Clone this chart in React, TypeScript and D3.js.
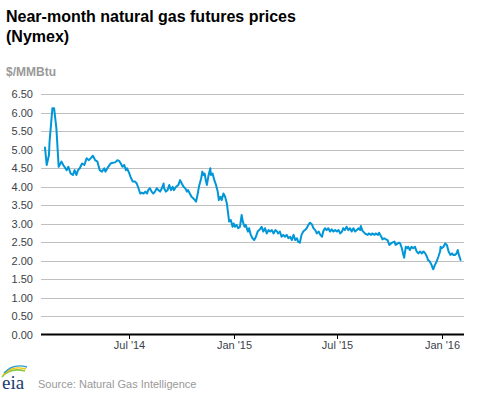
import React from "react";
import * as d3 from "d3";

const dates: string[] = [
  "2014-02-04","2014-02-07","2014-02-11","2014-02-12","2014-02-17","2014-02-20","2014-02-24","2014-02-28",
  "2014-03-03","2014-03-05","2014-03-08","2014-03-14","2014-03-17","2014-03-21","2014-03-25","2014-03-28","2014-03-31",
  "2014-04-03","2014-04-06","2014-04-10","2014-04-14","2014-04-18","2014-04-22","2014-04-25","2014-04-29",
  "2014-05-03","2014-05-07","2014-05-11","2014-05-15","2014-05-19","2014-05-21","2014-05-26","2014-05-30",
  "2014-06-03","2014-06-07","2014-06-11","2014-06-14","2014-06-17","2014-06-20","2014-06-23","2014-06-26","2014-06-28",
  "2014-07-02","2014-07-04","2014-07-08","2014-07-12","2014-07-15","2014-07-18","2014-07-21","2014-07-24","2014-07-27","2014-07-30",
  "2014-08-02","2014-08-04","2014-08-07","2014-08-10","2014-08-13","2014-08-16","2014-08-19","2014-08-22","2014-08-25","2014-08-28","2014-08-31",
  "2014-09-01","2014-09-04","2014-09-07","2014-09-10","2014-09-13","2014-09-16","2014-09-18","2014-09-22","2014-09-26","2014-09-29",
  "2014-10-02","2014-10-05","2014-10-08","2014-10-11","2014-10-13","2014-10-16","2014-10-19","2014-10-22","2014-10-25","2014-10-27","2014-10-30",
  "2014-11-01","2014-11-05","2014-11-07","2014-11-09","2014-11-11","2014-11-13","2014-11-15","2014-11-18","2014-11-21","2014-11-22","2014-11-25","2014-11-28",
  "2014-12-01","2014-12-04","2014-12-06","2014-12-09","2014-12-11","2014-12-14","2014-12-17","2014-12-20","2014-12-23","2014-12-24","2014-12-27","2014-12-30",
  "2015-01-01","2015-01-03","2015-01-06","2015-01-09","2015-01-12","2015-01-15","2015-01-17","2015-01-20","2015-01-22","2015-01-26","2015-01-28","2015-01-31",
  "2015-02-03","2015-02-06","2015-02-09","2015-02-12","2015-02-16","2015-02-19","2015-02-22","2015-02-25","2015-02-28",
  "2015-03-03","2015-03-06","2015-03-09","2015-03-12","2015-03-15","2015-03-18","2015-03-20","2015-03-23","2015-03-26","2015-03-29",
  "2015-04-01","2015-04-04","2015-04-07","2015-04-10","2015-04-13","2015-04-16","2015-04-19","2015-04-22","2015-04-24","2015-04-27","2015-04-30",
  "2015-05-03","2015-05-06","2015-05-09","2015-05-12","2015-05-15","2015-05-18","2015-05-21","2015-05-24","2015-05-27","2015-05-30",
  "2015-06-02","2015-06-05","2015-06-07","2015-06-10","2015-06-13","2015-06-16","2015-06-19","2015-06-22","2015-06-25","2015-06-28",
  "2015-07-01","2015-07-04","2015-07-07","2015-07-10","2015-07-12","2015-07-15","2015-07-18","2015-07-21","2015-07-24","2015-07-27","2015-07-30",
  "2015-08-02","2015-08-05","2015-08-08","2015-08-11","2015-08-12","2015-08-15","2015-08-18","2015-08-21","2015-08-24","2015-08-26","2015-08-30",
  "2015-09-01","2015-09-05","2015-09-07","2015-09-11","2015-09-13","2015-09-17","2015-09-19","2015-09-22","2015-09-25","2015-09-28",
  "2015-10-01","2015-10-04","2015-10-06","2015-10-10","2015-10-12","2015-10-16","2015-10-18","2015-10-20","2015-10-23","2015-10-25","2015-10-27","2015-10-29","2015-10-30",
  "2015-11-02","2015-11-03","2015-11-06","2015-11-09","2015-11-12","2015-11-15","2015-11-18","2015-11-21","2015-11-24","2015-11-27","2015-11-30",
  "2015-12-03","2015-12-06","2015-12-08","2015-12-11","2015-12-14","2015-12-17","2015-12-20","2015-12-23","2015-12-26","2015-12-29","2015-12-30",
  "2016-01-01","2016-01-04","2016-01-07","2016-01-10","2016-01-13","2016-01-16","2016-01-19","2016-01-21","2016-01-24","2016-01-27","2016-01-29","2016-01-31",
  "2016-02-03",
];

const prices: number[] = [
  5.06,4.59,4.86,5.22,6.12,6.12,5.58,4.54,
  4.63,4.68,4.59,4.45,4.54,4.36,4.32,4.45,4.32,
  4.45,4.50,4.63,4.59,4.77,4.72,4.77,4.84,
  4.72,4.68,4.45,4.41,4.50,4.41,4.54,4.63,
  4.65,4.66,4.72,4.70,4.63,4.54,4.59,4.45,4.50,
  4.36,4.27,4.14,4.14,4.09,3.96,3.82,3.84,3.82,3.87,
  3.82,3.91,3.96,3.87,3.82,3.87,3.96,3.91,3.87,3.96,4.09,
  3.96,3.87,3.91,4.05,3.91,4.00,3.91,4.00,4.05,4.18,
  4.09,4.00,3.96,3.87,3.91,3.82,3.73,3.69,3.64,3.60,3.82,
  4.00,4.23,4.41,4.32,4.36,4.18,4.05,4.32,4.50,4.32,4.36,4.18,
  4.05,3.87,3.64,3.73,3.64,3.82,3.73,3.55,3.19,3.06,3.10,2.92,
  3.01,2.92,2.97,2.88,2.92,3.24,3.06,2.92,2.97,2.79,2.88,2.70,
  2.61,2.56,2.65,2.79,2.85,2.92,2.79,2.88,2.74,
  2.83,2.79,2.83,2.74,2.83,2.79,2.74,2.79,2.65,2.70,
  2.65,2.70,2.61,2.65,2.56,2.70,2.56,2.61,2.52,2.49,2.70,
  2.79,2.83,2.88,2.97,3.03,2.99,2.88,2.83,2.74,2.79,
  2.70,2.65,2.79,2.88,2.83,2.88,2.79,2.85,2.79,2.83,
  2.79,2.83,2.74,2.79,2.88,2.83,2.92,2.83,2.88,2.79,2.88,
  2.79,2.83,2.88,2.83,2.94,2.81,2.76,2.72,2.70,2.74,2.70,
  2.74,2.70,2.74,2.70,2.76,2.65,2.58,2.61,2.58,2.56,
  2.43,2.47,2.49,2.52,2.43,2.47,2.49,2.47,2.34,2.20,2.08,2.29,2.38,
  2.34,2.38,2.29,2.38,2.34,2.38,2.25,2.20,2.25,2.20,2.25,
  2.20,2.11,2.02,1.98,1.89,1.77,1.89,1.98,2.11,2.25,2.38,
  2.34,2.38,2.47,2.43,2.25,2.16,2.20,2.16,2.16,2.20,2.29,2.16,
  2.02,
];

const yTicks: number[] = [0, 0.5, 1, 1.5, 2, 2.5, 3, 3.5, 4, 4.5, 5, 5.5, 6, 6.5];
const xTickDates: string[] = ["2014-07-01", "2015-01-01", "2015-07-01", "2016-01-01"];
const xTickLabels: string[] = ["Jul '14", "Jan '15", "Jul '15", "Jan '16"];
const domainDates: string[] = ["2014-01-28", "2016-02-09"];

const W = 477;
const H = 393;
const FONT = "Arial, 'Liberation Sans', Helvetica, sans-serif";

export default function App() {
  const parse = d3.timeParse("%Y-%m-%d");
  const x = d3
    .scaleTime()
    .domain(domainDates.map((d) => parse(d) as Date))
    .range([41, 464]);
  const y = d3.scaleLinear().domain([0, 6.5]).range([334.8, 94.3]);

  const pts = dates.map((d, i) => ({ date: parse(d) as Date, v: prices[i] }));
  const line = d3
    .line<{ date: Date; v: number }>()
    .x((d) => x(d.date))
    .y((d) => y(d.v));

  return (
    <svg
      width={W}
      height={H}
      style={{ position: "absolute", left: 0, top: 0, background: "#fff" }}
      fontFamily={FONT}
    >
      <rect width={W} height={H} fill="#fff" />
      <text x={6} y={22} fontSize={16} fontWeight="bold" fill="#000">
        Near-month natural gas futures prices
      </text>
      <text x={6} y={42} fontSize={16} fontWeight="bold" fill="#000">
        (Nymex)
      </text>
      <text x={6} y={76} fontSize={12} fontWeight="bold" fill="#999">
        $/MMBtu
      </text>

      {yTicks.map((t) => (
        <g key={t}>
          {t > 0 && (
            <line
              x1={41}
              x2={464}
              y1={Math.round(y(t)) + 0.5}
              y2={Math.round(y(t)) + 0.5}
              stroke="#c0c0c0"
              strokeWidth={1}
            />
          )}
          <text
            x={33}
            y={y(t) + 4}
            textAnchor="end"
            fontSize={11}
            fill="#3a3f4a"
          >
            {t.toFixed(2)}
          </text>
        </g>
      ))}

      <path
        d={line(pts) || ""}
        fill="none"
        stroke="#0096d7"
        strokeWidth={2}
        strokeLinejoin="round"
        strokeLinecap="round"
      />

      <line x1={41} x2={464} y1={334.5} y2={334.5} stroke="#000" strokeWidth={2} />
      {xTickDates.map((d, i) => {
        const xx = Math.round(x(parse(d) as Date)) + 0.5;
        return (
          <g key={d}>
            <line x1={xx} x2={xx} y1={334} y2={339} stroke="#000" strokeWidth={1} />
            <text x={xx} y={349} textAnchor="middle" fontSize={11} fill="#3a3f4a">
              {xTickLabels[i]}
            </text>
          </g>
        );
      })}

      <g>
        <path d="M2,377 Q10,367 25,371" fill="none" stroke="#8cc63f" strokeWidth={1.6} />
        <path d="M3,375 Q11,365 26,369" fill="none" stroke="#f5c400" strokeWidth={1.4} />
        <path d="M4,373 Q13,363 27,367" fill="none" stroke="#2a9bd7" strokeWidth={1.4} />
        <text
          x={2}
          y={389}
          fontSize={19}
          fontFamily="'Liberation Serif', 'DejaVu Serif', serif"
          fill="#1b3d6e"
        >
          eia
        </text>
      </g>
      <text x={38} y={388} fontSize={11} fill="#999">
        Source: Natural Gas Intelligence
      </text>
    </svg>
  );
}
